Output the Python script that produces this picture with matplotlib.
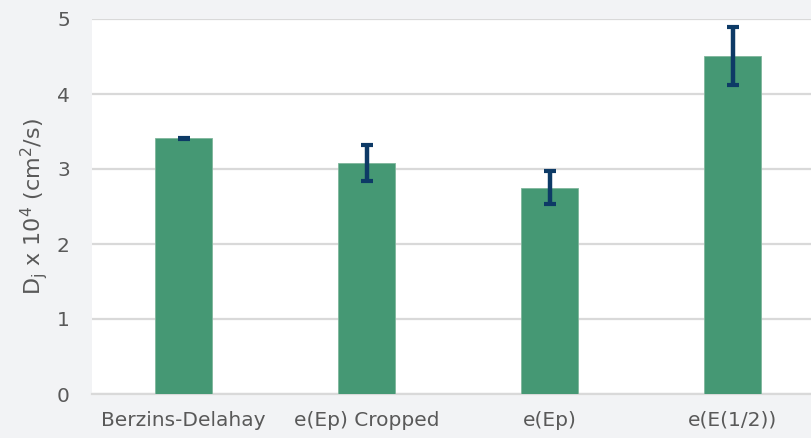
import matplotlib
matplotlib.use("Agg")
import matplotlib.pyplot as plt

methods = ["Berzins-Delahay", "e(Ep) Cropped", "e(Ep)", "e(E(1/2))"]
diffusivity = [3.41, 3.08, 2.75, 4.51]
diffusivity_err = [0.01, 0.24, 0.22, 0.39]
y_ticks = [0, 1, 2, 3, 4, 5]

plt.rcParams["font.family"] = ["DejaVu Sans"]
plt.rcParams["mathtext.fontset"] = "dejavusans"

text_color = "#595959"
grid_color = "#d9d9d9"

fig = plt.figure(figsize=(8.12, 4.38), dpi=100, facecolor="#f2f3f5")
ax = fig.add_axes([92 / 812, 44 / 438, 732 / 812, 375 / 438])
ax.set_facecolor("white")

x = range(len(methods))
ax.bar(x, diffusivity, width=0.31, color="#459874", edgecolor="#7fb69c",
       linewidth=0.6, zorder=3)
ax.errorbar(x, diffusivity, yerr=diffusivity_err, fmt="none",
            ecolor="#0d3a66", elinewidth=3.2, capsize=4.5, capthick=3, zorder=4)

ax.set_xlim(-0.5, len(methods) - 0.5)
ax.set_ylim(0, 5)
ax.set_yticks(y_ticks)
ax.set_xticks(list(x))
ax.set_xticklabels(methods)
ax.yaxis.grid(True, color=grid_color, linewidth=1.6, zorder=0)
ax.set_axisbelow(True)
for side in ["top", "right", "left"]:
    ax.spines[side].set_visible(False)
ax.spines["bottom"].set_color(grid_color)
ax.spines["bottom"].set_linewidth(1.6)
ax.tick_params(axis="both", length=0, labelsize=14.5, labelcolor=text_color)
ax.tick_params(axis="y", pad=16)
ax.tick_params(axis="x", pad=12)

ax.set_ylabel(r"D$_{\mathrm{j}}$ x 10$^{4}$ (cm$^{2}$/s)", fontsize=16,
              color=text_color)
ax.yaxis.set_label_coords(-0.057, 0.5)

fig.savefig("out.png", dpi=100, facecolor=fig.get_facecolor())
